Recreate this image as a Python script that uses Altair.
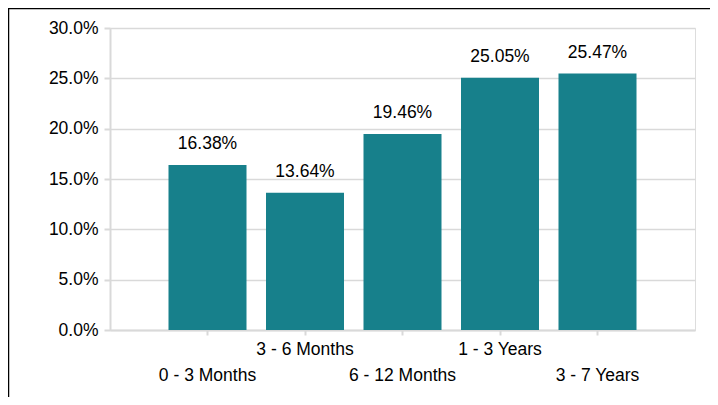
import json
import altair as alt
import pandas as pd

categories = ["0 - 3 Months", "3 - 6 Months", "6 - 12 Months", "1 - 3 Years", "3 - 7 Years"]
values = [0.1638, 0.1364, 0.1946, 0.2505, 0.2547]
y_ticks = [0.0, 0.05, 0.10, 0.15, 0.20, 0.25, 0.30]

df = pd.DataFrame({"cat": categories, "val": values})

upper = [c for i, c in enumerate(categories) if i % 2 == 1]
label_expr = "indexof(" + json.dumps(upper) + ", datum.value) >= 0 ? datum.value : ['', datum.value]"

FONT = "Liberation Sans"
FS = 17.5
GRID = "#d9d9d9"
BAR = "#17808B"

x = alt.X(
    "cat:N",
    sort=categories,
    scale=alt.Scale(paddingInner=0.2, paddingOuter=0.6),
    axis=alt.Axis(
        title=None,
        labelAngle=0,
        labelExpr=label_expr,
        labelLineHeight=26,
        labelFont=FONT,
        labelFontSize=FS,
        labelColor="#000000",
        domainColor=GRID,
        domainWidth=2,
        tickColor=GRID,
        tickWidth=2,
        tickSize=5,
        labelPadding=5,
        grid=False,
    ),
)
y = alt.Y(
    "val:Q",
    scale=alt.Scale(domain=[0, 0.3]),
    axis=alt.Axis(
        title=None,
        values=y_ticks,
        format=".1%",
        labelFont=FONT,
        labelFontSize=FS,
        labelColor="#000000",
        domainColor=GRID,
        domainWidth=2,
        tickColor=GRID,
        tickWidth=2,
        tickSize=6,
        labelPadding=6,
        gridColor=GRID,
        gridWidth=1.5,
    ),
)

base = alt.Chart(df)
bars = base.mark_bar(color=BAR).encode(x=x, y=y)
text = base.mark_text(
    baseline="bottom", dy=-12, font=FONT, fontSize=FS, color="#000000"
).encode(x=x, y=y, text=alt.Text("val:Q", format=".2%"))

left_border = alt.Chart(pd.DataFrame({"a": [0]})).mark_rule(color="#000000", strokeWidth=1.5).encode(
    x=alt.value(-101.5), y=alt.value(-20), y2=alt.value(380)
)
top_border = alt.Chart(pd.DataFrame({"a": [0]})).mark_rule(color="#000000", strokeWidth=1.5).encode(
    x=alt.value(-102), x2=alt.value(600), y=alt.value(-19.5)
)

chart = (
    alt.layer(bars, text, left_border, top_border)
    .properties(
        width=585,
        height=302,
        autosize=alt.AutoSizeParams(type="none"),
        padding={"left": 102, "top": 20, "right": 15, "bottom": 67},
    )
    .configure_view(stroke=None)
    .configure(background="#ffffff")
)

chart.save("out.html", embed_options={"renderer": "svg", "actions": False})
